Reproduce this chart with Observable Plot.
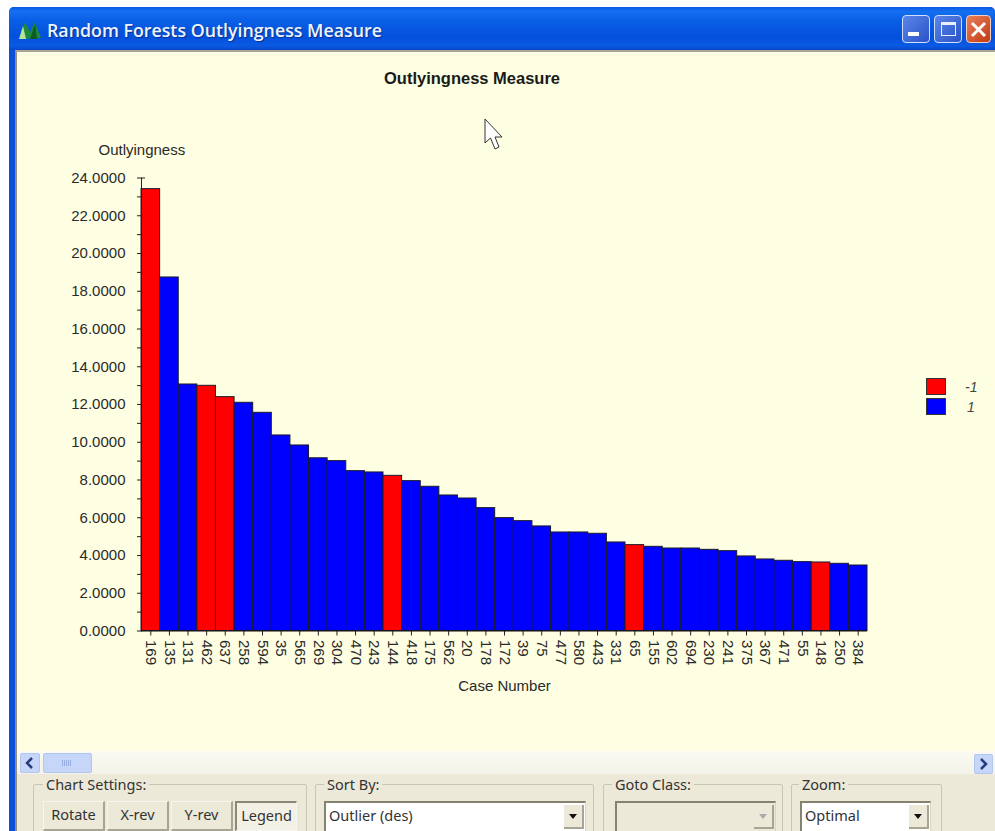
<!DOCTYPE html>
<html>
<head>
<meta charset="utf-8">
<script src="https://cdn.jsdelivr.net/npm/d3@7"></script>
<script src="https://cdn.jsdelivr.net/npm/@observablehq/plot@0.6"></script>
<style>
html,body{margin:0;padding:0;background:#fff;}
#stage{position:relative;width:995px;height:831px;overflow:hidden;font-family:"Liberation Sans",Arial,sans-serif;}
#stage>*{position:absolute;}
#stage svg.plot{left:0;top:0;background:transparent;}
.t{white-space:nowrap;color:#222;}
.ui{font-family:"Noto Sans",sans-serif;font-size:14.5px;color:#333;white-space:nowrap;}
.grp{border:1px solid #c9c6b4;box-sizing:border-box;border-radius:2px;}
.lab{background:#ece9d8;padding:0 3px;}
.btn{box-sizing:border-box;background:#ece9d8;border-right:2px solid #a8a594;border-bottom:2px solid #a8a594;border-top:1px solid #f7f6ee;border-left:1px solid #f7f6ee;text-align:center;line-height:24px;}
.sunk{border-right:1px solid #f7f6ee;border-bottom:1px solid #f7f6ee;border-top:2px solid #8b8878;border-left:2px solid #8b8878;background:#f3f1e6;}
.combo{box-sizing:border-box;background:#fff;border-top:2px solid #85826f;border-left:2px solid #85826f;border-right:1px solid #d8d5c5;border-bottom:1px solid #d8d5c5;padding-left:3px;line-height:24px;}
.arrow{box-sizing:border-box;background:#ece9d8;border-right:2px solid #a8a594;border-bottom:2px solid #a8a594;}
.arrow:after{content:"";position:absolute;left:5px;top:9px;border-left:4px solid transparent;border-right:4px solid transparent;border-top:5px solid #111;}
.arrow.off:after{border-top-color:#aaa;}
</style>
</head>
<body>
<div id="stage"></div>
<script>
const caseNumbers = ["169","135","131","462","637","258","594","35","565","269","304","470","243","144","418","175","562","20","178","172","39","75","477","580","443","331","65","155","602","694","230","241","375","367","471","55","148","250","384"];
const outlyingness = [23.41,18.73,13.06,12.99,12.39,12.09,11.56,10.36,9.83,9.15,9.00,8.47,8.40,8.22,7.94,7.64,7.18,7.02,6.51,5.98,5.82,5.54,5.22,5.22,5.15,4.69,4.55,4.46,4.37,4.37,4.30,4.23,3.95,3.79,3.72,3.65,3.63,3.56,3.47];
const classes = [-1,1,1,-1,-1,1,1,1,1,1,1,1,1,-1,1,1,1,1,1,1,1,1,1,1,1,1,-1,1,1,1,1,1,1,1,1,1,-1,1,1];
const classDomain = [-1,1];
const classColors = ["#ff0000","#0000ff"];
const majorTicks = [0,2,4,6,8,10,12,14,16,18,20,22,24];
const minorTicks = [1,3,5,7,9,11,13,15,17,19,21,23];
const capTick = [24];

const rows = caseNumbers.map((c,i)=>({c,v:outlyingness[i],k:classes[i]}));
const stage = document.getElementById("stage");
function add(html){const d=document.createElement("div");d.innerHTML=html;while(d.firstChild)stage.appendChild(d.firstChild);}

add(`
<div style="left:9px;top:7px;width:986px;height:824px;background:#0a4fdc;border-radius:5px 5px 0 0;"></div>
<div style="left:9px;top:7px;width:986px;height:43px;border-radius:5px 5px 0 0;background:linear-gradient(#0a5ae6 0,#1470f0 10%,#0a5fe6 30%,#0550dc 70%,#0a5ae4 90%,#0a46c8 100%);"></div>
<div style="left:15px;top:50px;width:980px;height:781px;background:#fefee2;border-top:2px solid #a7a694;border-left:2px solid #8f8e80;box-sizing:border-box;"></div>
<div style="left:17px;top:751px;width:978px;height:24px;background:linear-gradient(#fafaf2,#f4f3ea);"></div>
<div style="left:17px;top:774px;width:978px;height:57px;background:#ece9d8;"></div>
<svg style="left:18px;top:20px" width="24" height="20" viewBox="0 0 24 20"><path d="M1 19 L7 2 L12 12 L17 2 L23 18 Z" fill="#1c8a3a"/><path d="M1 19 L5 6 L8 19Z" fill="#b6e49a"/><path d="M12 19 L17 4 L19 19Z" fill="#0e5a28"/></svg>
<div class="ui" style="left:47px;top:18px;color:#eef4ff;font-size:17.8px;line-height:24px;text-shadow:1px 1px 1px #0a2f90;font-family:'Open Sans',sans-serif;font-weight:600;">Random Forests Outlyingness Measure</div>
<div style="left:902px;top:15px;width:28px;height:28px;box-sizing:border-box;border:1px solid #cfe0ff;border-radius:4px;background:linear-gradient(135deg,#5b86e8,#2a52c8);"></div>
<div style="left:908px;top:32px;width:11px;height:4px;background:#fff;"></div>
<div style="left:934px;top:15px;width:28px;height:28px;box-sizing:border-box;border:1px solid #cfe0ff;border-radius:4px;background:linear-gradient(135deg,#5b86e8,#2a52c8);"></div>
<div style="left:941px;top:22px;width:15px;height:14px;box-sizing:border-box;border:1px solid #e8f0ff;border-top:3px solid #e8f0ff;"></div>
<div style="left:966px;top:15px;width:25px;height:28px;box-sizing:border-box;border-radius:4px;border:1px solid #f4d0c0;background:linear-gradient(135deg,#e8805a,#c23a14);"></div>
<svg style="left:970px;top:21px" width="17" height="17"><path d="M2 2 L15 15 M15 2 L2 15" stroke="#fff" stroke-width="3"/></svg>
<div class="t" style="left:322px;width:300px;top:70px;text-align:center;font-weight:bold;font-size:16.5px;line-height:16px;color:#1a1a1a;">Outlyingness Measure</div>
<div style="left:20px;top:753px;width:20px;height:20px;box-sizing:border-box;border-radius:2px;background:#c5d6f8;border:1px solid #b3c6ee;"></div>
<svg style="left:24px;top:757px" width="12" height="12"><path d="M8 1 L3 6 L8 11" fill="none" stroke="#2a3c80" stroke-width="2.5"/></svg>
<div style="left:43px;top:753px;width:49px;height:20px;box-sizing:border-box;border-radius:2px;background:#c5d6f8;border:1px solid #b3c6ee;"></div>
<div style="left:62px;top:760px;width:10px;height:6px;background:repeating-linear-gradient(90deg,#97aee0 0 1px,transparent 1px 2px);"></div>
<div style="left:974px;top:754px;width:19px;height:20px;box-sizing:border-box;border-radius:2px;background:#c5d6f8;border:1px solid #b3c6ee;"></div>
<svg style="left:978px;top:758px" width="12" height="12"><path d="M3 1 L8 6 L3 11" fill="none" stroke="#2a3c80" stroke-width="2.5"/></svg>

<div class="grp" style="left:33px;top:784px;width:274px;height:60px;"></div>
<div class="ui lab" style="left:43px;top:774px;line-height:20px;">Chart Settings:</div>
<div class="ui btn" style="left:43px;top:801px;width:62px;height:30px;">Rotate</div>
<div class="ui btn" style="left:107px;top:801px;width:62px;height:30px;">X-rev</div>
<div class="ui btn" style="left:171px;top:801px;width:62px;height:30px;">Y-rev</div>
<div class="ui btn sunk" style="left:235px;top:801px;width:62px;height:30px;">Legend</div>

<div class="grp" style="left:315px;top:784px;width:279px;height:60px;"></div>
<div class="ui lab" style="left:324px;top:774px;line-height:20px;">Sort By:</div>
<div class="ui combo" style="left:324px;top:801px;width:262px;height:32px;">Outlier (des)</div>
<div class="arrow" style="left:564px;top:805px;width:20px;height:24px;"></div>

<div class="grp" style="left:603px;top:784px;width:180px;height:60px;"></div>
<div class="ui lab" style="left:612px;top:774px;line-height:20px;">Goto Class:</div>
<div class="ui combo" style="left:615px;top:801px;width:161px;height:32px;background:#ece9d8;"></div>
<div class="arrow off" style="left:754px;top:805px;width:20px;height:24px;"></div>

<div class="grp" style="left:791px;top:784px;width:151px;height:60px;"></div>
<div class="ui lab" style="left:799px;top:774px;line-height:20px;">Zoom:</div>
<div class="ui combo" style="left:800px;top:801px;width:131px;height:32px;">Optimal</div>
<div class="arrow" style="left:909px;top:805px;width:20px;height:24px;"></div>
`);

const chart = Plot.plot({
  width: 995, height: 831,
  marginLeft: 141, marginRight: 128, marginTop: 177.5, marginBottom: 200.5,
  style: {background: "transparent", fontFamily: "'Liberation Sans',Arial,sans-serif", fontSize: "15px", color: "#2a2a2a"},
  x: {domain: caseNumbers, padding: 0, align: 0, round: false},
  y: {domain: [0,24]},
  color: {domain: classDomain, range: classColors},
  marks: [
    Plot.barY(rows, {x:"c", y:"v", fill:d=>d.k, stroke:"#1a1a2a", strokeWidth:1}),
    Plot.axisY({ticks:minorTicks, tickFormat:()=>"", tickSize:4, label:null, stroke:"#222"}),
    Plot.axisY({ticks:majorTicks, tickFormat:d=>d.toFixed(4), tickSize:4, tickPadding:12, fontSize:15, label:null, stroke:"#222"}),
    Plot.axisY({ticks:capTick, tickFormat:()=>"", tickSize:-4, label:null, stroke:"#222"}),
    Plot.axisX({tickSize:5, tickPadding:4, tickRotate:90, fontSize:15, label:"Case Number", labelArrow:"none", labelAnchor:"center", labelOffset:60, stroke:"#222"}),
    Plot.frame({anchor:"left", stroke:"#222"}),
    Plot.ruleY([0], {stroke:"#111"}),
    Plot.text(["Outlyingness"], {frameAnchor:"top-left", dx:-43, dy:-34, textAnchor:"start", fontSize:15, fill:"#2a2a2a"})
  ]
});
chart.classList.add("plot");
stage.appendChild(chart);

add(`
<div style="left:926px;top:378px;width:20px;height:17px;box-sizing:border-box;border:1px solid #333;background:${classColors[0]};"></div>
<div style="left:926px;top:398px;width:20px;height:17px;box-sizing:border-box;border:1px solid #333;background:${classColors[1]};"></div>
<div class="t" style="left:965px;top:380px;font-size:14px;font-style:italic;line-height:15px;color:#444;">${classDomain[0]}</div>
<div class="t" style="left:967px;top:400px;font-size:14px;font-style:italic;line-height:15px;color:#444;">${classDomain[1]}</div>
<svg style="left:483px;top:118px" width="22" height="34"><path d="M2 1 L2 25 L7.5 20 L12 31 L16 29 L12 19 L19 19 Z" fill="#fff" stroke="#333" stroke-width="1"/></svg>
`);
</script>
</body>
</html>
